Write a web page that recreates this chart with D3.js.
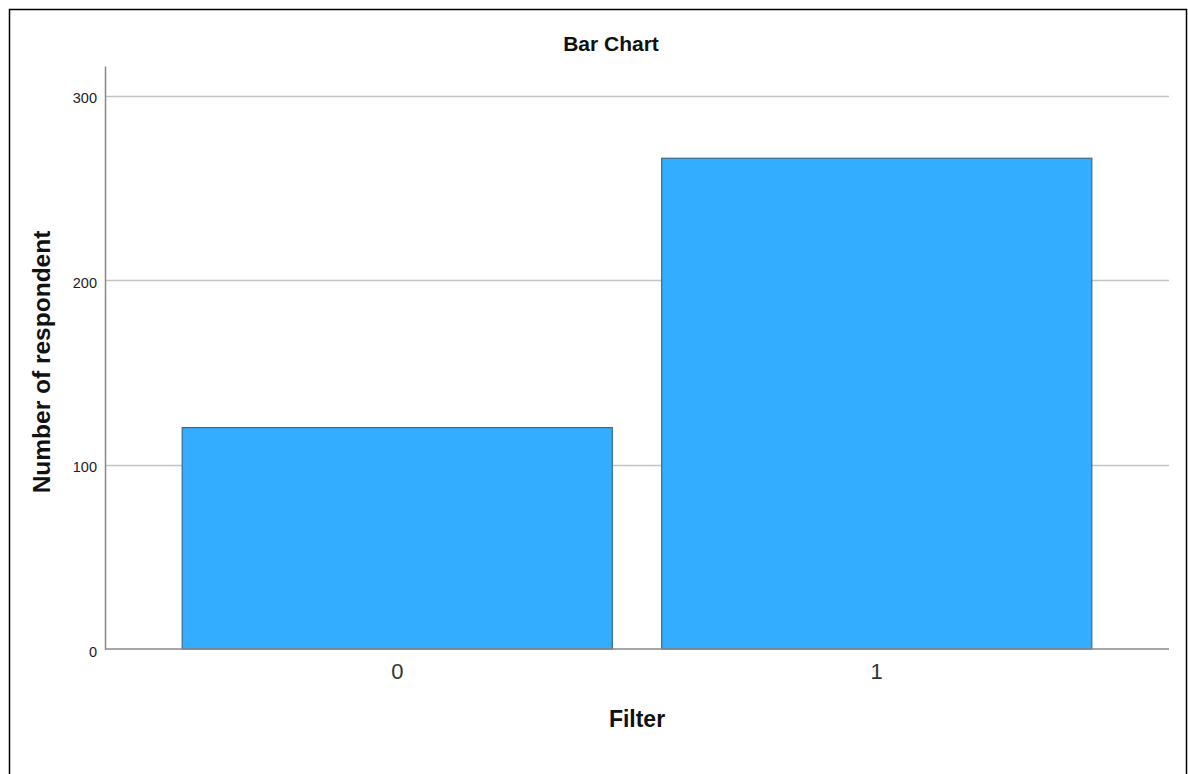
<!DOCTYPE html>
<html><head><meta charset="utf-8">
<script src="https://cdn.jsdelivr.net/npm/d3@7"></script>
<style>body{margin:0;background:#fff;} svg{display:block;font-family:"Liberation Sans",Arial,sans-serif;}</style>
</head><body>
<svg id="c" width="1188" height="774"></svg>
<script>
const categories = ["0", "1"];
const counts = [120, 266];
const yTicks = [0, 100, 200, 300];
const title = "Bar Chart";
const xTitle = "Filter";
const yTitle = "Number of respondent";

(function () {
const svg = d3.select("#c");
const mLeft = 105, mRight = 1169, mTop = 66, mBottom = 649;

svg.append("rect").attr("x", 9.5).attr("y", 9.5).attr("width", 1177).attr("height", 780)
  .attr("fill", "none").attr("stroke", "#000").attr("stroke-width", 1.5);

const x = d3.scaleBand().domain(categories).range([mLeft, mRight]).paddingInner(0.103).paddingOuter(0.161);
const y = d3.scaleLinear().domain([0, 316]).range([mBottom, mTop]);

// gridlines
svg.append("g").selectAll("line").data(yTicks.filter(d => d > 0)).join("line")
  .attr("x1", mLeft).attr("x2", mRight).attr("y1", d => Math.round(y(d)) + 0.5).attr("y2", d => Math.round(y(d)) + 0.5)
  .attr("stroke", "#c4c4c4").attr("stroke-width", 1.3);

// bars
svg.append("g").selectAll("rect").data(categories).join("rect")
  .attr("x", d => x(d)).attr("width", x.bandwidth())
  .attr("y", (d, i) => y(counts[i])).attr("height", (d, i) => y(0) - y(counts[i]))
  .attr("fill", "#33adff").attr("stroke", "#3b6b88").attr("stroke-width", 1.2);

// y axis
const yAxis = d3.axisLeft(y).tickValues(yTicks).tickSize(0).tickPadding(8).tickFormat(d3.format("d"));
const gy = svg.append("g").attr("transform", `translate(${mLeft},0)`).call(yAxis);
gy.select(".domain").attr("stroke", "#888").attr("stroke-width", 1.5);
gy.selectAll("text").attr("font-size", 14.5).attr("dy", "0.5em").attr("fill", "#222").attr("font-family", "Liberation Sans, Arial, sans-serif");

// x axis
const xAxis = d3.axisBottom(x).tickSize(0).tickPadding(14);
const gx = svg.append("g").attr("transform", `translate(0,${mBottom})`).call(xAxis);
gx.select(".domain").attr("stroke", "#888").attr("stroke-width", 1.5).attr("d", `M${mLeft},0H${mRight}`);
gx.selectAll("text").attr("font-size", 22).attr("dy", "0.71em").attr("y", 14).attr("fill", "#333").attr("font-family", "Liberation Sans, Arial, sans-serif");

// titles
svg.append("text").attr("x", 611).attr("y", 51).attr("text-anchor", "middle")
  .attr("font-size", 21).attr("font-weight", "bold").attr("fill", "#111").text(title);
svg.append("text").attr("x", (mLeft + mRight) / 2).attr("y", 727).attr("text-anchor", "middle")
  .attr("font-size", 23).attr("font-weight", "bold").attr("fill", "#111").text(xTitle);
svg.append("text").attr("transform", "translate(50,362) rotate(-90)").attr("text-anchor", "middle")
  .attr("font-size", 24.5).attr("font-weight", "bold").attr("fill", "#111").text(yTitle);
})();
</script>
</body></html>
